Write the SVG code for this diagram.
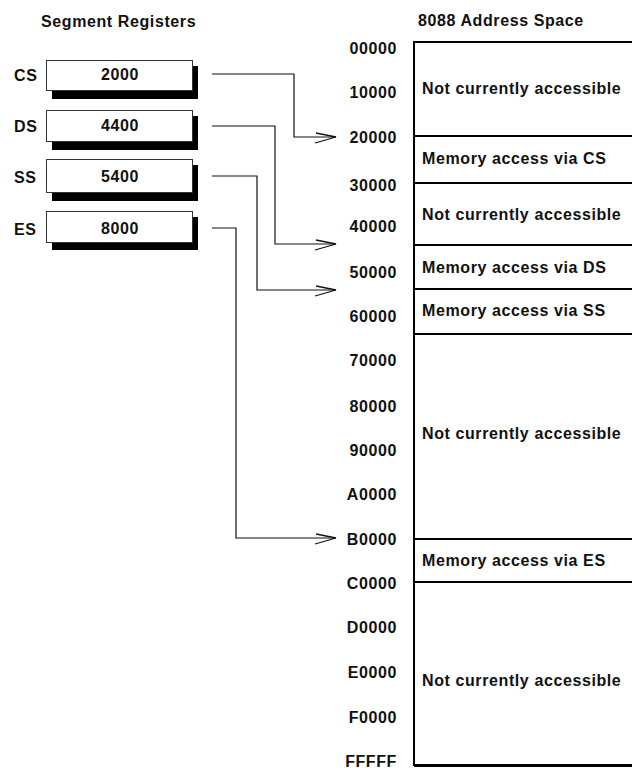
<svg xmlns="http://www.w3.org/2000/svg" width="632" height="770" viewBox="0 0 632 770">
<style>
text{font-family:"Liberation Sans",Arial,sans-serif;font-weight:bold;font-size:16px;fill:#111;letter-spacing:0.6px}
.hdr{font-size:16px}
.addr{text-anchor:end}
.val{text-anchor:middle}
.reg{fill:#fff;stroke:#333;stroke-width:1}
.shadow{fill:#000}
.seg{fill:#fff;stroke:#000;stroke-width:2}
.conn{fill:none;stroke:#111;stroke-width:1.2}
</style>
<defs>
<marker id="arr" markerUnits="userSpaceOnUse" viewBox="-24 -8 26 16" refX="0" refY="0" markerWidth="26" markerHeight="16" orient="auto" overflow="visible">
<path d="M-20,-4 L0,0 L-21,6" fill="none" stroke="#111" stroke-width="1.3"/>
</marker>
</defs>
<rect width="632" height="770" fill="#fff"/>
<text x="41" y="27" class="hdr">Segment Registers</text>
<text x="418" y="26" class="hdr">8088 Address Space</text>

<g id="reg-cs">
<text x="14" y="81">CS</text>
<rect class="shadow" x="52" y="66" width="146" height="33"/>
<rect class="reg" x="46.5" y="60.5" width="146" height="30"/>
<text x="120" y="80" class="val">2000</text>
</g>
<g id="reg-ds">
<text x="14" y="132">DS</text>
<rect class="shadow" x="52" y="116" width="146" height="34"/>
<rect class="reg" x="46.5" y="110.5" width="146" height="31"/>
<text x="120" y="131" class="val">4400</text>
</g>
<g id="reg-ss">
<text x="14" y="183">SS</text>
<rect class="shadow" x="52" y="165" width="146" height="36"/>
<rect class="reg" x="46.5" y="159.5" width="146" height="33"/>
<text x="120" y="182" class="val">5400</text>
</g>
<g id="reg-es">
<text x="14" y="235">ES</text>
<rect class="shadow" x="52" y="217" width="146" height="33"/>
<rect class="reg" x="46.5" y="211.5" width="146" height="31"/>
<text x="120" y="234" class="val">8000</text>
</g>

<g id="address-space">
<g id="seg-1"><rect class="seg" x="414" y="42" width="240" height="94"/><text x="422" y="94">Not currently accessible</text></g>
<g id="seg-cs"><rect class="seg" x="414" y="136" width="240" height="47"/><text x="422" y="164">Memory access via CS</text></g>
<g id="seg-3"><rect class="seg" x="414" y="183" width="240" height="62"/><text x="422" y="220">Not currently accessible</text></g>
<g id="seg-ds"><rect class="seg" x="414" y="245" width="240" height="44"/><text x="422" y="273">Memory access via DS</text></g>
<g id="seg-ss"><rect class="seg" x="414" y="289" width="240" height="45"/><text x="422" y="316">Memory access via SS</text></g>
<g id="seg-6"><rect class="seg" x="414" y="334" width="240" height="205"/><text x="422" y="439">Not currently accessible</text></g>
<g id="seg-es"><rect class="seg" x="414" y="539" width="240" height="43"/><text x="422" y="566">Memory access via ES</text></g>
<g id="seg-8"><rect class="seg" x="414" y="582" width="240" height="183"/><text x="422" y="686">Not currently accessible</text></g>
<line x1="414" y1="765.5" x2="632" y2="765.5" stroke="#000" stroke-width="3"/>
</g>

<g id="addresses" class="addr">
<text x="397" y="54" class="addr">00000</text>
<text x="397" y="98" class="addr">10000</text>
<text x="397" y="143" class="addr">20000</text>
<text x="397" y="191" class="addr">30000</text>
<text x="397" y="232" class="addr">40000</text>
<text x="397" y="278" class="addr">50000</text>
<text x="397" y="322" class="addr">60000</text>
<text x="397" y="366" class="addr">70000</text>
<text x="397" y="412" class="addr">80000</text>
<text x="397" y="456" class="addr">90000</text>
<text x="397" y="500" class="addr">A0000</text>
<text x="397" y="545" class="addr">B0000</text>
<text x="397" y="589" class="addr">C0000</text>
<text x="397" y="633" class="addr">D0000</text>
<text x="397" y="678" class="addr">E0000</text>
<text x="397" y="723" class="addr">F0000</text>
<text x="397" y="767" class="addr">FFFFF</text>
</g>

<g id="connectors">
<polyline class="conn" points="212,74 294,74 294,137 336,137" marker-end="url(#arr)"/>
<polyline class="conn" points="212,126 275,126 275,244 336,244" marker-end="url(#arr)"/>
<polyline class="conn" points="212,176 257,176 257,290 336,290" marker-end="url(#arr)"/>
<polyline class="conn" points="212,228 236,228 236,538 336,538" marker-end="url(#arr)"/>
</g>
</svg>
